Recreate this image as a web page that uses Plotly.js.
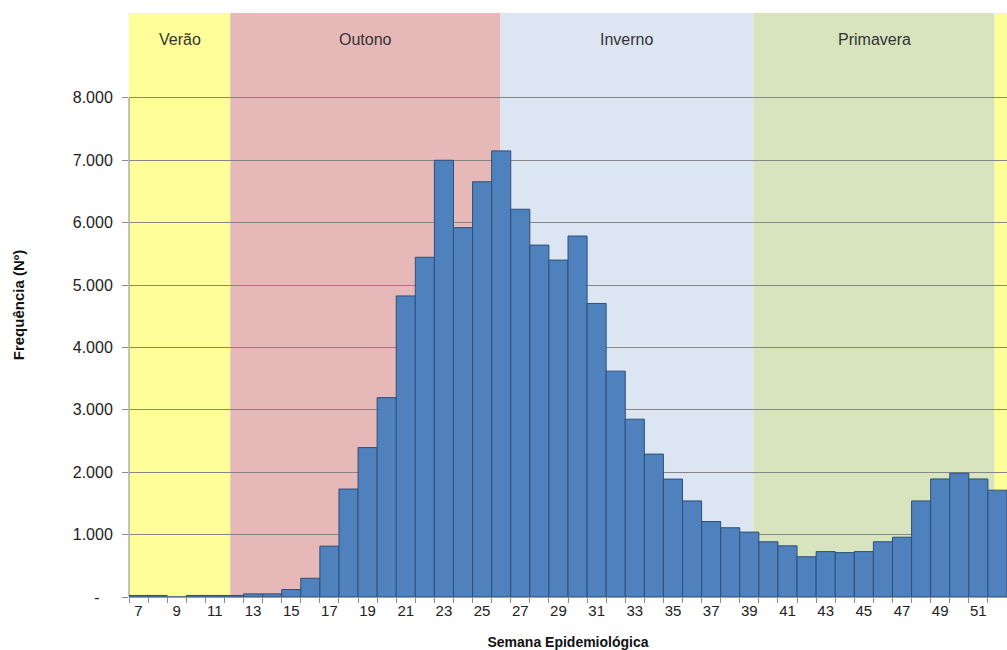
<!DOCTYPE html>
<html>
<head>
<meta charset="utf-8">
<script src="https://cdn.plot.ly/plotly-3.0.1.min.js"></script>
<style>html,body{margin:0;padding:0;background:#fff;}#chart{width:1007px;height:650px;}</style>
</head>
<body>
<div id="chart"></div>
<script>
// Epidemiological weeks
const weeks = [7,8,9,10,11,12,13,14,15,16,17,18,19,20,21,22,23,24,25,26,27,28,29,30,31,32,33,34,35,36,37,38,39,40,41,42,43,44,45,46,47,48,49,50,51,52];
// Frequency per week
const frequency = [25,25,0,25,25,25,50,50,120,300,815,1730,2395,3195,4825,5445,7000,5920,6655,7150,6215,5640,5400,5785,4705,3620,2850,2290,1890,1540,1210,1110,1040,885,820,645,728,712,728,885,958,1540,1892,1983,1892,1712];
// Season bands (week positions)
const seasonNames = ["Verão","Outono","Inverno","Primavera",""];
const seasonStart = [6.5, 11.81, 25.96, 39.22, 51.85];
const seasonEnd   = [11.81, 25.96, 39.22, 51.85, 53.5];
const seasonColors = ["#FFFF99","#E6B9B8","#DCE6F2","#D7E4BD","#FFFF99"];
// Y tick labels
const yTickVals = [0,1000,2000,3000,4000,5000,6000,7000,8000];
const yTickText = ["-\u00A0\u00A0\u00A0","1.000","2.000","3.000","4.000","5.000","6.000","7.000","8.000"];
const xTickVals = weeks.filter(w => w % 2 === 1);

const FONT = 'Liberation Sans, Arial, sans-serif';

const shapes = seasonNames.map((n,i) => ({
  type:'rect', xref:'x', yref:'paper',
  x0: seasonStart[i], x1: seasonEnd[i], y0: 0, y1: 1,
  fillcolor: seasonColors[i], line:{width:0}, layer:'below'
}));
// y axis line only up to the top tick
shapes.push({type:'line', xref:'paper', yref:'y', x0:0, x1:0, y0:0, y1:yTickVals[yTickVals.length-1],
  line:{color:'#8a8a8a', width:1}, layer:'between'});

const annotations = seasonNames.map((n,i) => ({
  text: n, xref:'x', yref:'paper',
  x: (seasonStart[i]+seasonEnd[i])/2, y: 0.955, yanchor:'middle',
  showarrow:false, font:{family:FONT, size:16, color:'#333'}
})).filter(a => a.text !== "");

const trace = {
  type:'bar', x: weeks, y: frequency,
  marker:{color:'#4F81BD', line:{color:'#2E4F7A', width:1}},
  width: 1,
  hoverinfo:'x+y'
};

const layout = {
  width:1007, height:650,
  margin:{l:129, r:0, t:13, b:53},
  paper_bgcolor:'#ffffff', plot_bgcolor:'#ffffff',
  font:{family:FONT, size:15, color:'#222'},
  showlegend:false,
  bargap:0,
  shapes: shapes,
  annotations: annotations,
  xaxis:{
    range:[6.5, 52.5], tickvals: xTickVals, ticktext: xTickVals.map(String),
    ticks:'', showgrid:false, zeroline:false,
    showline:true, linecolor:'#9a9a9a', linewidth:1,
    minor:{tick0:6.5, dtick:1, ticks:'outside', ticklen:5, tickcolor:'#8a8a8a', showgrid:false},
    tickfont:{family:FONT, size:15, color:'#222'},
    title:{text:'<b>Semana Epidemiológica</b>', font:{family:FONT, size:14, color:'#111'}, standoff:23}
  },
  yaxis:{
    range:[0, 9360], tickvals: yTickVals, ticktext: yTickText,
    ticks:'outside', ticklen:6, tickcolor:'#8a8a8a', ticklabelstandoff:6,
    showgrid:true, gridcolor:'#868686', gridwidth:1, zeroline:false,
    showline:false,
    tickfont:{family:FONT, size:16, color:'#222'},
    title:{text:'<b>Frequência (Nº)</b>', font:{family:FONT, size:15, color:'#111'}, standoff:44}
  }
};

Plotly.newPlot('chart', [trace], layout, {displayModeBar:false, staticPlot:true});
</script>
</body>
</html>
